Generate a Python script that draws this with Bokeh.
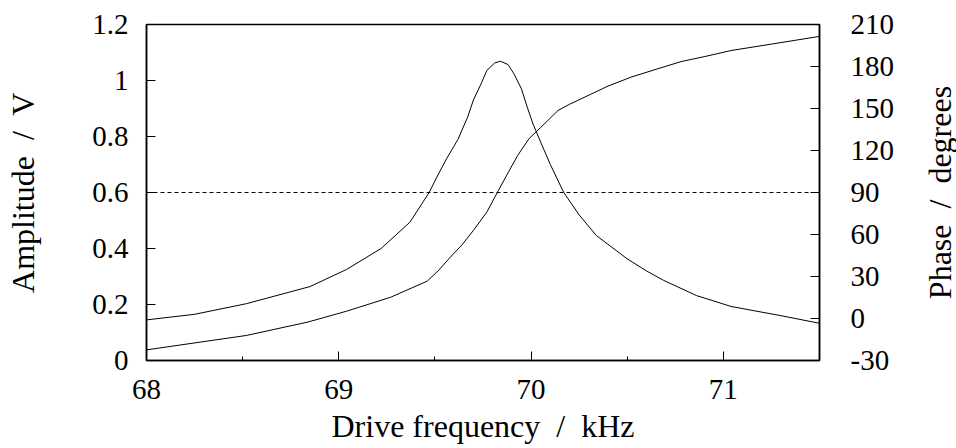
import math
from bokeh.plotting import figure
from bokeh.layouts import row
from bokeh.models import Range1d, LinearAxis, FixedTicker, CustomJSTickFormatter
from bokeh.core.properties import value
from bokeh.embed import file_html
from bokeh.resources import INLINE

# Amplitude (V) vs drive frequency (kHz)
amp_freq = [68.00, 68.25, 68.52, 68.85, 69.04, 69.22, 69.37, 69.47, 69.51, 69.56,
            69.62, 69.67, 69.70, 69.74, 69.77, 69.81, 69.84, 69.88, 69.91, 69.95,
            69.98, 70.01, 70.05, 70.10, 70.17, 70.25, 70.34, 70.50, 70.60, 70.69,
            70.86, 71.04, 71.30, 71.50]
amp_vals = [0.145, 0.165, 0.203, 0.264, 0.325, 0.400, 0.494, 0.600, 0.655, 0.720,
            0.790, 0.869, 0.930, 0.988, 1.036, 1.062, 1.069, 1.057, 1.025, 0.970,
            0.905, 0.845, 0.780, 0.700, 0.600, 0.520, 0.446, 0.363, 0.320, 0.286,
            0.232, 0.193, 0.160, 0.133]

# Phase (degrees) vs drive frequency (kHz)
ph_freq = [68.00, 68.52, 68.84, 69.04, 69.27, 69.46, 69.52, 69.58, 69.64, 69.70,
           69.77, 69.83, 69.88, 69.93, 69.99, 70.05, 70.14, 70.20, 70.26, 70.40,
           70.52, 70.65, 70.78, 70.90, 71.04, 71.25, 71.50]
ph_vals = [-22.4, -12.1, -2.5, 5.2, 15.2, 26.7, 34.5, 43.8, 52.5, 62.9,
           76.0, 91.4, 104.0, 116.4, 128.6, 136.4, 148.6, 153.0, 156.9, 166.0,
           172.4, 178.0, 183.5, 187.0, 191.4, 196.0, 201.5]

ref_freq = [68.0, 71.5]
ref_amp = [0.6, 0.6]

x_ticks = [68, 69, 70, 71]
x_minor = [68.5, 69.5, 70.5]
amp_ticks = [0, 0.2, 0.4, 0.6, 0.8, 1.0, 1.2]
ph_ticks = [-30, 0, 30, 60, 90, 120, 150, 180, 210]

NB = "\u00a0"
x_title = "Drive frequency" + NB + " /" + NB + " kHz"
amp_title = "Amplitude" + NB + " /" + NB + " V"
ph_title = "Phase" + NB + " /" + NB + " degrees"

FONT = "Liberation Serif"
TICK_FS = "29px"
LABEL_FS = "32px"

X0, X1 = 68, 71.5
p = figure(width=916, height=448, x_range=Range1d(X0, X1), y_range=Range1d(0, 1.2),
           output_backend="svg", toolbar_location=None,
           min_border_left=146, min_border_right=97, min_border_top=24, min_border_bottom=88)
p.extra_y_ranges = {"phase": Range1d(-30, 210)}
p.grid.visible = False
p.outline_line_color = "black"
p.outline_line_width = 1.5
p.background_fill_color = "white"
p.border_fill_color = "white"

p.line(amp_freq, amp_vals, line_color="black", line_width=1)
p.line(ph_freq, ph_vals, line_color="black", line_width=1, y_range_name="phase")
p.line(ref_freq, ref_amp, line_color="black", line_width=1, line_dash="4 3")

ph_axis = LinearAxis(y_range_name="phase")
p.add_layout(ph_axis, "right")

xa = p.xaxis[0]
xa.ticker = FixedTicker(ticks=x_ticks, minor_ticks=x_minor)
xa.axis_label = x_title

ya = p.yaxis[0]
ya.ticker = FixedTicker(ticks=amp_ticks)
ya.formatter = CustomJSTickFormatter(code="return String(Math.round(tick*10)/10);")
ya.axis_label = amp_title

ph_axis.ticker = FixedTicker(ticks=ph_ticks)
ph_axis.formatter = CustomJSTickFormatter(code="return String(tick);")

for ax in [xa, ya, ph_axis]:
    ax.axis_line_color = "black"
    ax.axis_line_width = 1.5
    ax.major_tick_in = 9
    ax.major_tick_out = 0
    ax.minor_tick_in = 4
    ax.minor_tick_out = 0
    ax.major_tick_line_width = 1
    ax.minor_tick_line_width = 1
    ax.major_label_text_font = FONT
    ax.major_label_text_font_size = TICK_FS
    ax.major_label_text_color = "black"
    ax.axis_label_text_font = FONT
    ax.axis_label_text_font_size = LABEL_FS
    ax.axis_label_text_font_style = "normal"
    ax.axis_label_text_color = "black"

ya.minor_tick_line_color = None
ph_axis.minor_tick_line_color = None
xa.major_label_standoff = 19
xa.axis_label_standoff = 6
ya.major_label_standoff = 18
ya.axis_label_standoff = 48
ph_axis.major_label_standoff = 31

# narrow strip on the right carrying the phase-axis title, reading bottom to top
STRIP_W, STRIP_H = 40, 448
p2 = figure(frame_width=STRIP_W, frame_height=STRIP_H, title=None,
            x_range=Range1d(0, STRIP_W), y_range=Range1d(0, STRIP_H),
            output_backend="svg", toolbar_location=None, x_axis_type=None, y_axis_type=None,
            min_border_left=0, min_border_right=0, min_border_top=0, min_border_bottom=0)
p2.grid.visible = False
p2.outline_line_color = None
p2.background_fill_color = "white"
p2.border_fill_color = "white"
p2.text(x=[23], y=[280], text=[ph_title], angle=math.pi / 2,
        text_font=value(FONT), text_font_size=LABEL_FS, text_color="black",
        text_align="center", text_baseline="alphabetic")

layout = row(p, p2, spacing=0)
open("out.html", "w").write(file_html(layout, INLINE))
